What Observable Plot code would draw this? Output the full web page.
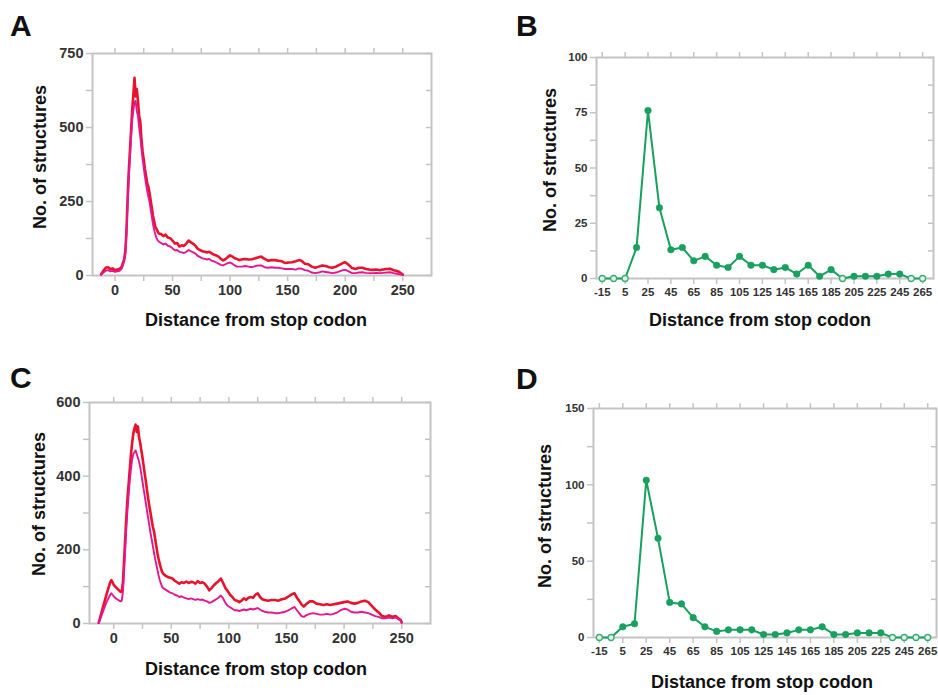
<!DOCTYPE html>
<html><head><meta charset="utf-8">
<script src="https://cdn.jsdelivr.net/npm/d3@7"></script>
<script src="https://cdn.jsdelivr.net/npm/@observablehq/plot@0.6"></script>
<style>
body{margin:0;background:#fff;}
#root{position:relative;width:938px;height:695px;overflow:hidden;font-family:'Liberation Sans',Arial,sans-serif;background:#fff;}
.pl{position:absolute;}
.letter{position:absolute;font-weight:bold;font-size:30px;line-height:30px;color:#111;}
.xt,.yt{position:absolute;font-weight:bold;font-size:18px;line-height:18px;white-space:nowrap;color:#111;}
.xt{transform:translate(-50%,-50%);}
.yt{transform:translate(-50%,-50%) rotate(-90deg);}
</style></head><body><div id="root"></div>
<script>
// ---------- Panel A data (line traces) ----------
const aX = [-12,-10,-8,-6,-4,-2,0,2,4,6,
  8,9,10,11,12,13,14,15,16,17,
  18,19,20,21,22,23,24,25,26,27,
  28,29,30,31,32,33,34,35,36,37,
  38,40,42,44,46,48,50,52,54,56,
  58,60,62,64,66,68,70,72,74,76,
  78,80,82,84,86,88,90,92,94,96,
  98,100,102,104,106,108,110,113,116,119,
  122,125,127,130,133,136,139,142,145,148,
  151,154,157,160,162,165,168,171,174,177,
  180,183,186,189,192,195,198,200,203,206,
  209,212,215,218,221,224,227,230,233,236,
  239,242,245,247,249,250];
const aRed = [4,16,26,28,22,24,18,20,22,30,
  55,80,150,260,350,420,490,560,610,668,
  605,630,590,540,520,462,420,392,360,338,
  312,300,280,255,230,202,185,165,158,150,
  142,140,133,138,128,126,118,108,110,98,
  102,100,108,118,112,107,100,90,86,82,
  80,78,80,75,70,68,64,56,51,55,
  62,68,64,58,56,52,54,56,54,55,
  58,62,64,56,50,52,52,50,48,42,
  44,45,48,52,50,40,38,30,26,30,
  34,32,28,26,30,36,42,45,36,25,
  22,26,26,22,20,19,20,18,20,22,
  23,18,15,12,6,3];
const aMagenta = [3,10,16,18,14,16,12,14,16,24,
  48,70,140,240,330,400,465,525,560,585,
  590,555,540,500,470,430,395,365,335,310,
  285,268,250,225,200,175,155,140,128,120,
  115,110,105,108,100,98,92,85,86,80,
  78,76,80,86,82,78,74,66,62,58,
  56,54,56,50,48,44,40,36,34,38,
  42,44,40,34,30,30,30,32,30,28,
  32,34,34,28,26,28,26,26,24,22,
  22,22,20,24,23,18,16,10,8,10,
  14,12,10,8,10,14,18,19,14,8,
  8,10,11,9,8,8,9,8,9,10,
  11,8,6,4,3,2];

// ---------- Panel C data (line traces) ----------
const cX = [-13,-11,-9,-7,-5,-3,-2,-1,0,2,
  4,6,7,8,9,10,11,12,13,14,
  15,16,17,18,19,20,21,22,23,24,
  25,26,27,28,29,30,31,32,33,34,
  35,36,37,38,39,40,41,42,43,45,
  47,49,51,53,55,57,59,61,63,65,
  67,69,71,73,75,77,79,81,83,85,
  87,89,91,93,95,97,99,101,103,105,
  107,109,111,113,115,117,119,121,123,125,
  127,129,131,134,137,140,143,146,149,152,
  155,157,159,161,163,165,167,170,173,176,
  179,182,185,188,191,194,197,200,203,206,
  209,212,215,218,221,224,227,230,233,236,
  239,242,245,247,249,250];
const cRed = [2,25,48,70,92,112,118,112,105,98,
  92,86,88,110,170,230,290,340,380,420,
  460,490,515,530,540,520,535,506,490,470,
  450,428,405,385,360,338,318,300,280,262,
  250,230,210,190,175,162,150,140,135,130,
  126,124,122,116,112,108,112,110,114,110,
  113,112,108,115,110,112,108,100,90,96,
  104,110,115,122,110,96,88,78,72,64,
  62,58,62,68,64,70,72,70,78,82,
  72,66,64,62,64,64,62,66,68,74,
  80,82,70,62,52,46,52,60,60,54,
  52,50,52,50,52,54,56,58,60,56,
  54,56,60,62,58,48,38,30,20,18,
  22,18,20,14,10,3];
const cMagenta = [1,18,35,52,66,78,82,78,74,68,
  64,60,62,85,140,200,260,310,350,390,
  420,445,460,465,470,460,450,440,425,405,
  385,365,345,325,305,285,265,245,228,210,
  192,175,160,145,130,118,108,100,96,92,
  88,84,82,78,76,72,74,70,68,66,
  68,66,64,66,64,65,62,60,56,58,
  62,66,70,76,68,56,48,44,40,36,
  36,34,36,38,36,38,40,38,40,42,
  38,34,32,30,30,28,28,30,32,36,
  42,45,36,28,20,18,22,26,28,26,
  24,24,26,24,26,30,36,40,38,32,
  30,30,32,30,28,24,20,18,14,14,
  16,14,16,12,8,2];

// ---------- Panels B and D data (binned counts) ----------
const binX = [-15,-5,5,15,25,35,45,55,65,75,85,95,105,115,125,135,145,155,165,175,185,195,205,215,225,235,245,255,265];
const bCounts = [0,0,0,14,76,32,13,14,8,10,6,5,10,6,6,4,5,2,6,1,4,0,1,1,1,2,2,0,0];
const dCounts = [0,0,7,9,103,65,23,22,13,7,4,5,5,5,2,2,3,5,5,7,2,2,3,3,3,0,0,0,0];

// ---------- Tick values ----------
const lineXTicks = [0,25,50,75,100,125,150,175,200,225,250];
const lineXLabels = [0,50,100,150,200,250];
const binXTicks = [-15,5,25,45,65,85,105,125,145,165,185,205,225,245,265];
const aYTicks = [0,125,250,375,500,625,750];
const aYLabels = [0,250,500,750];
const bYTicks = [0,12.5,25,37.5,50,62.5,75,87.5,100];
const bYLabels = [0,25,50,75,100];
const cYTicks = [0,100,200,300,400,500,600];
const cYLabels = [0,200,400,600];
const dYTicks = [0,25,50,75,100,125,150];
const dYLabels = [0,50,100,150];

const xTitle = "Distance from stop codon";
const yTitle = "No. of structures";

const RED = "#e8122c", MAGENTA = "#e3178f", GREEN = "#17a05e", FRAME = "#c4c4c4";

function panel(cfg) {
  const marks = [
    Plot.frame({stroke: FRAME, strokeWidth: 2}),
    Plot.axisX({anchor: "bottom", ticks: cfg.xTicks, tickSize: 6, tickPadding: 3, stroke: FRAME, strokeWidth: 1.5, fill: "#333",
      tickFormat: d => cfg.xLabels.includes(d) ? String(d) : "", label: null}),
    Plot.axisX({anchor: "top", ticks: cfg.xTicks, tickSize: 6, stroke: FRAME, strokeWidth: 1.5, tickFormat: () => "", label: null}),
    Plot.axisY({anchor: "left", ticks: cfg.yTicks, tickSize: 6, tickPadding: 3, stroke: FRAME, strokeWidth: 1.5, fill: "#333",
      tickFormat: d => cfg.yLabels.includes(d) ? String(d) : "", label: null}),
    Plot.axisY({anchor: "right", ticks: cfg.yTicks, tickSize: 6, dx: -6, stroke: FRAME, strokeWidth: 1.5, tickFormat: () => "", label: null}),
    ...cfg.marks
  ];
  const svg = Plot.plot({
    width: cfg.width, height: cfg.height,
    marginLeft: cfg.ml, marginRight: cfg.mr, marginTop: cfg.mt, marginBottom: cfg.mb,
    x: {domain: cfg.xDomain},
    y: {domain: cfg.yDomain},
    style: {fontFamily: "'Liberation Sans', Arial, sans-serif", fontSize: cfg.fontSize, fontWeight: "bold", background: "transparent", overflow: "visible", color: "#333"},
    marks
  });
  svg.classList.add("pl");
  svg.style.left = cfg.left + "px";
  svg.style.top = cfg.top + "px";
  svg.style.position = "absolute";
  return svg;
}

function traces(xs, red, mag) {
  const r = xs.map((x, i) => ({x, y: red[i]}));
  const m = xs.map((x, i) => ({x, y: mag[i]}));
  return [
    Plot.line(r, {x: "x", y: "y", stroke: RED, strokeWidth: 2.6, strokeLinejoin: "round"}),
    Plot.line(m, {x: "x", y: "y", stroke: MAGENTA, strokeWidth: 1.9, strokeLinejoin: "round"})
  ];
}

function bins(xs, counts) {
  const d = xs.map((x, i) => ({x, y: counts[i]}));
  return [
    Plot.line(d, {x: "x", y: "y", stroke: GREEN, strokeWidth: 2}),
    Plot.dot(d.filter(p => p.y > 0), {x: "x", y: "y", r: 3.3, fill: GREEN, stroke: GREEN, strokeWidth: 0.5}),
    Plot.dot(d.filter(p => p.y === 0), {x: "x", y: "y", r: 3, fill: "#e4f3ea", stroke: "#3aad74", strokeWidth: 1.3})
  ];
}

const root = document.getElementById("root");

root.appendChild(panel({left: 0, top: 0, width: 460, height: 335, ml: 92, mr: 29, mt: 53, mb: 60,
  xDomain: [-19.5, 275], yDomain: [0, 750], xTicks: lineXTicks, xLabels: lineXLabels,
  yTicks: aYTicks, yLabels: aYLabels, fontSize: "14.5px", marks: traces(aX, aRed, aMagenta)}));

root.appendChild(panel({left: 470, top: 0, width: 468, height: 335, ml: 126, mr: 5, mt: 57, mb: 57,
  xDomain: [-20, 274.5], yDomain: [0, 100], xTicks: binXTicks, xLabels: binXTicks,
  yTicks: bYTicks, yLabels: bYLabels, fontSize: "11.5px", marks: bins(binX, bCounts)}));

root.appendChild(panel({left: 0, top: 335, width: 460, height: 360, ml: 89, mr: 30, mt: 67, mb: 72,
  xDomain: [-21, 275], yDomain: [0, 600], xTicks: lineXTicks, xLabels: lineXLabels,
  yTicks: cYTicks, yLabels: cYLabels, fontSize: "14.5px", marks: traces(cX, cRed, cMagenta)}));

root.appendChild(panel({left: 470, top: 335, width: 468, height: 360, ml: 123, mr: 2, mt: 73, mb: 58,
  xDomain: [-20, 272.5], yDomain: [0, 150], xTicks: binXTicks, xLabels: binXTicks,
  yTicks: dYTicks, yLabels: dYLabels, fontSize: "11.5px", marks: bins(binX, dCounts)}));

function addText(cls, text, left, top) {
  const el = document.createElement("div");
  el.className = cls;
  el.textContent = text;
  el.style.left = left + "px";
  el.style.top = top + "px";
  root.appendChild(el);
}
// panel letters
addText("letter", "A", 10, 11);
addText("letter", "B", 516, 11);
addText("letter", "C", 10, 363);
addText("letter", "D", 516, 364);
// axis titles
addText("xt", xTitle, 256, 320);
addText("xt", xTitle, 760, 320);
addText("xt", xTitle, 256, 669);
addText("xt", xTitle, 762, 682);
addText("yt", yTitle, 40, 157);
addText("yt", yTitle, 550, 160);
addText("yt", yTitle, 39, 504);
addText("yt", yTitle, 545, 516);
</script></body></html>
